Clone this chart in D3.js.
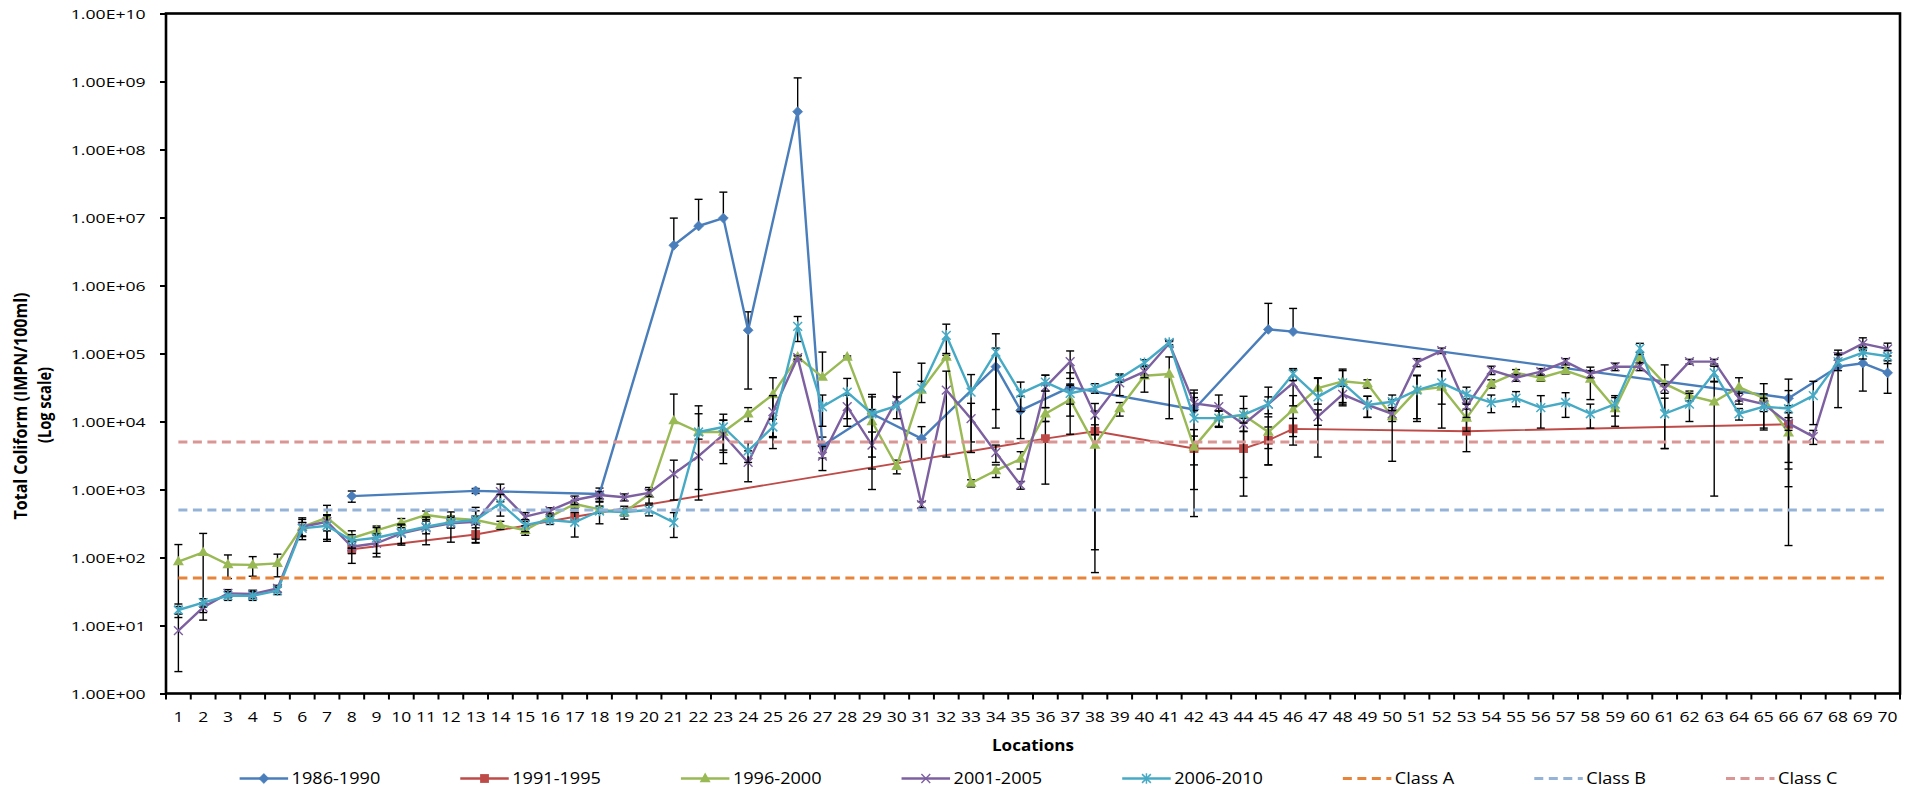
<!DOCTYPE html>
<html><head><meta charset="utf-8">
<script src="https://cdn.jsdelivr.net/npm/d3@7"></script>
<style>body{margin:0;background:#fff}svg{display:block}text{font-family:"Open Sans",sans-serif;fill:#000}</style>
</head><body><svg id="c" width="1910" height="789"></svg>
<script>
const locations = [1,2,3,4,5,6,7,8,9,10,11,12,13,14,15,16,17,18,19,20,21,22,23,24,25,26,27,28,29,30,31,32,33,34,35,36,37,38,39,40,41,42,43,44,45,46,47,48,49,50,51,52,53,54,55,56,57,58,59,60,61,62,63,64,65,66,67,68,69,70];
const yTicks = [1,1e1,1e2,1e3,1e4,1e5,1e6,1e7,1e8,1e9,1e10];
const yTickLabels = ["1.00E+00","1.00E+01","1.00E+02","1.00E+03","1.00E+04","1.00E+05","1.00E+06","1.00E+07","1.00E+08","1.00E+09","1.00E+10"];
const seriesNames = ["1986-1990","1991-1995","1996-2000","2001-2005","2006-2010"];
const classNames = ["Class A","Class B","Class C"];
const classLevels = [50,500,5000];

const v1986 = [null,null,null,null,null,null,null,800,null,null,
 null,null,955,null,null,null,null,860,null,null,
 3.9e6,7.5e6,9.8e6,2.2e5,null,3.6e8,4.4e3,null,1.3e4,null,
 5.6e3,null,null,6.4e4,1.46e4,null,3.2e4,null,null,null,
 null,1.5e4,null,null,2.26e5,2.1e5,null,null,null,null,
 null,null,null,null,null,null,null,null,null,null,
 null,null,null,null,null,2.2e4,null,6.4e4,7.2e4,5.2e4];
const e1986 = [null,null,null,null,null,null,null,150,null,null,
 null,null,80,null,null,null,null,190,null,null,
 5.9e6,1.1e7,1.38e7,1.9e5,null,7.7e8,1.5e3,null,1.2e4,null,
 2.8e3,null,null,5.6e4,9e3,null,2e4,null,null,null,
 null,1.4e4,null,null,3.2e5,2.5e5,null,null,null,null,
 null,null,null,null,null,null,null,null,null,null,
 null,null,null,null,null,2.0e4,null,4.8e4,4.4e4,2.6e4];

const v1991 = [null,null,null,null,null,null,null,132,null,null,
 null,null,218,null,null,null,398,null,null,null,
 null,null,null,null,null,null,null,null,null,null,
 null,null,null,null,null,5.6e3,null,7.2e3,null,null,
 null,4.0e3,null,4.0e3,5.3e3,7.8e3,null,null,null,null,
 null,null,7.2e3,null,null,null,null,null,null,null,
 null,null,null,null,null,9.1e3,null,null,null,null];
const e1991 = [null,null,null,null,null,null,null,50,null,null,
 null,null,55,null,null,null,60,null,null,null,
 null,null,null,null,null,null,null,null,null,null,
 null,null,null,null,null,4.4e3,null,7.07e3,null,null,
 null,3.6e3,null,3.2e3,3e3,3.3e3,null,null,null,null,
 null,null,3.6e3,null,null,null,null,null,null,null,
 null,null,null,null,null,8e3,null,null,null,null];

const v1996 = [87,119,79,78,82,283,385,192,250,324,
 422,377,356,300,252,400,612,510,460,850,
 1.03e4,7.0e3,7.0e3,1.3e4,2.5e4,8.9e4,4.5e4,8.9e4,1.0e4,2.2e3,
 2.9e4,8.9e4,1.24e3,1.9e3,2.8e3,1.3e4,2.1e4,4.5e3,1.55e4,4.7e4,
 5.0e4,4.2e3,1.14e4,1.25e4,7.0e3,1.5e4,3.1e4,3.9e4,3.6e4,1.18e4,
 2.9e4,3.2e4,1.12e4,3.6e4,5.2e4,4.4e4,5.6e4,4.2e4,1.55e4,8.9e4,
 3.6e4,2.4e4,1.95e4,3.2e4,2.2e4,6.8e3,null,null,null,null];
const e1996 = [68,107,30,25,30,100,200,55,40,50,
 60,30,50,40,40,50,80,60,50,220,
 1.5e4,1.0e4,3.5e3,3e3,1.9e4,5e3,6e4,3e3,5e3,500,
 1e4,5e3,150,400,800,3e3,1.45e4,4.44e3,3.5e3,2e4,
 3.9e4,1.9e3,3e3,1.1e4,4.7e3,9e3,1.3e4,2e4,5e3,9.2e3,
 1.8e4,2.4e4,4e3,5e3,6e3,5e3,6e3,2.1e4,7e3,1.5e4,
 3.2e4,4e3,1.87e4,1.2e4,1.4e4,6.65e3,null,null,null,null];

const v2001 = [8.4,18.5,29.7,29,35,283,336,144,162,227,
 274,318,336,930,398,488,700,830,770,890,
 1.7e3,3.1e3,6.4e3,2.5e3,1.4e4,8.7e4,3.1e3,1.65e4,4.5e3,2.1e4,
 600,2.9e4,1.1e4,3.5e3,1.16e3,3.2e4,7.6e4,1.24e4,3.7e4,5.4e4,
 1.4e5,1.85e4,1.65e4,9.1e3,1.8e4,3.7e4,1.18e4,2.5e4,1.75e4,1.3e4,
 7.4e4,1.1e5,1.65e4,5.7e4,4.4e4,5.4e4,7.6e4,5.0e4,6.4e4,6.4e4,
 3.1e4,7.6e4,7.6e4,2.2e4,1.8e4,9.4e3,6.0e3,9.1e4,1.4e5,1.17e5];
const e2001 = [6.3,3,4,4,4,80,90,30,60,75,
 120,150,150,270,60,50,100,100,90,100,
 1.0e3,2.4e3,4e3,1.2e3,1e4,5e3,1.2e3,8e3,2.5e3,3.2e4,
 60,2.6e4,7.5e3,1e3,150,1.6e4,3.3e4,6e3,1.3e4,1e4,
 1e4,4e3,8e3,2e3,5e3,2e4,3e3,8e3,6e3,3e3,
 1e4,1e4,5e3,8e3,5e3,6e3,8e3,6e3,8e3,8e3,
 5e3,6e3,6e3,4e3,4e3,2e3,1.4e3,1e4,3e4,2.5e4];

const v2006 = [16.9,21.7,27.4,27.4,32.5,268,293,177,195,235,
 283,330,356,626,300,356,330,483,467,500,
 327,7.0e3,8.3e3,3.7e3,8.3e3,2.5e5,1.65e4,2.7e4,1.3e4,1.7e4,
 3.1e4,1.85e5,2.7e4,1.05e5,2.6e4,3.8e4,2.6e4,3.1e4,4.3e4,7.3e4,
 1.45e5,1.12e4,1.12e4,1.25e4,1.8e4,5.0e4,2.3e4,3.7e4,1.75e4,1.95e4,
 2.9e4,3.7e4,2.5e4,1.9e4,2.2e4,1.6e4,1.9e4,1.3e4,1.8e4,1.19e5,
 1.3e4,1.8e4,5.2e4,1.3e4,1.65e4,1.55e4,2.4e4,7.6e4,1.03e5,9.1e4];
const e2006 = [3.8,3,4,4,4,60,120,40,80,75,
 60,60,190,220,60,50,130,170,100,90,
 130,6e3,4.5e3,1.2e3,2.5e3,1e5,8e3,1.6e4,1e4,6e3,
 4.1e4,8.5e4,2.2e4,9e4,1.2e4,1e4,8e3,5e3,5e3,8e3,
 1e4,1.5e4,3e3,3e3,1.4e4,1e4,2e4,1.9e4,6e3,5e3,
 1.9e4,1.9e4,7e3,5.5e3,5.5e3,8e3,7.5e3,5e3,6e3,2.2e4,
 9e3,8e3,1.3e4,2.5e3,9e3,1.3e4,1.5e4,2e4,2e4,2e4];

// ---------- styling / layout ----------
const seriesStyle = [
  {color:"#4A7EBB", marker:"diamond", w:2.4},
  {color:"#BE4B48", marker:"square",  w:1.9},
  {color:"#98B954", marker:"triangle",w:2.4},
  {color:"#7D60A0", marker:"x",       w:2.4},
  {color:"#46AAC5", marker:"star",    w:2.4}
];
const classColors = ["#E8833A","#95B3D7","#D99694"];
const seriesVals = [v1986,v1991,v1996,v2001,v2006];
const seriesErrs = [e1986,e1991,e1996,e2001,e2006];

const M = {l:166, r:1900, t:13.5, b:693.5};
const svg = d3.select("#c");
const x = d3.scaleBand().domain(locations).range([M.l, M.r]).padding(0);
const cx = d => x(d) + x.bandwidth()/2;
const y = d3.scaleLog().domain([1,1e10]).range([M.b, M.t]).clamp(true);

// measure natural text width to derive horizontal stretch
function measure(str, size, weight){
  const t = svg.append("text").attr("font-size",size).attr("font-weight",weight||"normal").text(str);
  const w = t.node().getComputedTextLength(); t.remove(); return w;
}
const SXY = 75 / measure("1.00E+10", 13);
const SXX = 20 / measure("10", 15);
const SXL = 88.7 / measure("1986-1990", 15.4);

function marker(g, type, color){
  if(type==="diamond") g.append("path").attr("d","M0,-4.9L4.9,0L0,4.9L-4.9,0Z").attr("fill",color).attr("stroke",color).attr("stroke-width",0.8);
  else if(type==="square") g.append("rect").attr("x",-4.4).attr("y",-4.4).attr("width",8.8).attr("height",8.8).attr("fill",color);
  else if(type==="triangle") g.append("path").attr("d","M0,-5.9L5.5,3.7L-5.5,3.7Z").attr("fill",color);
  else if(type==="x") g.append("path").attr("d","M-4.4,-4.4L4.4,4.4M-4.4,4.4L4.4,-4.4").attr("stroke",color).attr("stroke-width",1.4).attr("fill","none");
  else if(type==="star") g.append("path").attr("d","M-4.4,-4.4L4.4,4.4M-4.4,4.4L4.4,-4.4M0,-5.3L0,5.3").attr("stroke",color).attr("stroke-width",1.5).attr("fill","none");
}

// ---------- y axis ----------
const yAxis = svg.append("g").attr("transform",`translate(${M.l},0)`)
  .call(d3.axisLeft(y).tickValues(yTicks).tickSize(6).tickSizeOuter(0).tickFormat((d,i)=>yTickLabels[i]));
yAxis.select(".domain").remove();
yAxis.selectAll(".tick line").attr("stroke","#000").attr("stroke-width",2);
yAxis.selectAll(".tick text").attr("font-family","Open Sans").attr("font-size",13)
  .attr("x",-20.3/SXY).attr("dy","0.36em").attr("transform",`scale(${SXY},1)`).attr("fill","#000");

// ---------- x axis ----------
const xAxis = svg.append("g").attr("transform",`translate(0,${M.b})`)
  .call(d3.axisBottom(x).tickSize(0).tickSizeOuter(0));
xAxis.select(".domain").remove();
xAxis.selectAll(".tick text").attr("font-family","Open Sans").attr("font-size",15)
  .attr("y",28.6).attr("dy",0).attr("transform",`scale(${SXX},1)`).attr("fill","#000");
const bounds = locations.map(d=>x(d)).concat([x(locations[locations.length-1])+x.bandwidth()]);
svg.append("g").selectAll("line").data(bounds).join("line")
  .attr("x1",d=>d).attr("x2",d=>d).attr("y1",M.b).attr("y2",M.b+6)
  .attr("stroke","#000").attr("stroke-width",2);

// ---------- data series ----------
const lineGen = d3.line().x(d=>cx(d.l)).y(d=>y(d.v));
seriesVals.forEach((vals,si)=>{
  const st = seriesStyle[si];
  const pts = locations.map((l,i)=>({l, v:vals[i], e:seriesErrs[si][i]})).filter(d=>d.v!=null);
  const g = svg.append("g");
  const eb = g.append("g").attr("stroke","#000").attr("stroke-width",1.4);
  pts.filter(d=>d.e!=null).forEach(d=>{
    const X = cx(d.l);
    const hi = d.v + d.e;
    const lo = d.v - d.e > 0 ? d.v - d.e : null;
    const yTop = y(hi), yBot = lo!=null ? y(lo) : y(d.v);
    eb.append("line").attr("x1",X).attr("x2",X).attr("y1",yTop).attr("y2",yBot);
    eb.append("line").attr("x1",X-4).attr("x2",X+4).attr("y1",yTop).attr("y2",yTop);
    if(lo!=null && lo>=1) eb.append("line").attr("x1",X-4).attr("x2",X+4).attr("y1",yBot).attr("y2",yBot);
  });
  g.append("path").datum(pts).attr("d",lineGen).attr("fill","none")
    .attr("stroke",st.color).attr("stroke-width",st.w).attr("stroke-linejoin","round");
  pts.forEach(d=>{
    const mg = g.append("g").attr("transform",`translate(${cx(d.l)},${y(d.v)})`);
    marker(mg, st.marker, st.color);
  });
});

// ---------- class limit lines ----------
classLevels.forEach((lv,ci)=>{
  const pts = locations.map(l=>({l, v:lv}));
  svg.append("path").datum(pts).attr("d",lineGen).attr("fill","none")
    .attr("stroke",classColors[ci]).attr("stroke-width",3).attr("stroke-dasharray","9,5.5");
});

// ---------- frame ----------
svg.append("rect").attr("x",M.l).attr("y",M.t).attr("width",M.r-M.l).attr("height",M.b-M.t)
  .attr("fill","none").attr("stroke","#000").attr("stroke-width",2.6);

// ---------- titles ----------
svg.append("text").attr("x",(M.l+M.r)/2).attr("y",751).attr("text-anchor","middle")
  .attr("font-weight","bold").attr("font-size",16).attr("textLength",82).attr("lengthAdjust","spacingAndGlyphs").text("Locations");
const yt = svg.append("g").attr("font-weight","bold").attr("font-size",17).attr("text-anchor","middle");
yt.append("text").attr("transform","translate(21,406) rotate(-90)").attr("dy","0.35em")
  .attr("textLength",227).attr("lengthAdjust","spacingAndGlyphs").text("Total Coliform (IMPN/100ml)");
yt.append("text").attr("transform","translate(45.5,405) rotate(-90)").attr("dy","0.35em")
  .attr("textLength",76).attr("lengthAdjust","spacingAndGlyphs").text("(Log scale)");

// ---------- legend ----------
const legItems = seriesNames.map((n,i)=>({name:n, color:seriesStyle[i].color, marker:seriesStyle[i].marker, dash:false}))
  .concat(classNames.map((n,i)=>({name:n, color:classColors[i], marker:null, dash:true})));
const leg = svg.append("g");
const LY = 778.5, LINE = 48.5, GAP = 3.5, SPACE = 80;
let lx = 0;
let lastEnd = 0;
legItems.forEach(it=>{
  const g = leg.append("g");
  if(it.dash){
    g.append("line").attr("x1",lx).attr("x2",lx+LINE).attr("y1",LY).attr("y2",LY)
      .attr("stroke",it.color).attr("stroke-width",3).attr("stroke-dasharray","9,5.5");
  } else {
    g.append("line").attr("x1",lx).attr("x2",lx+LINE).attr("y1",LY).attr("y2",LY)
      .attr("stroke",it.color).attr("stroke-width",2.4);
    const mg = g.append("g").attr("transform",`translate(${lx+LINE/2},${LY})`);
    marker(mg,it.marker,it.color);
  }
  const t = g.append("text").attr("font-size",15.4).attr("dy","0.36em")
    .attr("transform",`translate(${lx+LINE+GAP},${LY}) scale(${SXL},1)`).text(it.name);
  const tw = t.node().getComputedTextLength()*SXL;
  lastEnd = lx + LINE + GAP + tw;
  lx = lastEnd + SPACE;
});
leg.attr("transform",`translate(${1038.5 - lastEnd/2},0)`);
</script></body></html>
